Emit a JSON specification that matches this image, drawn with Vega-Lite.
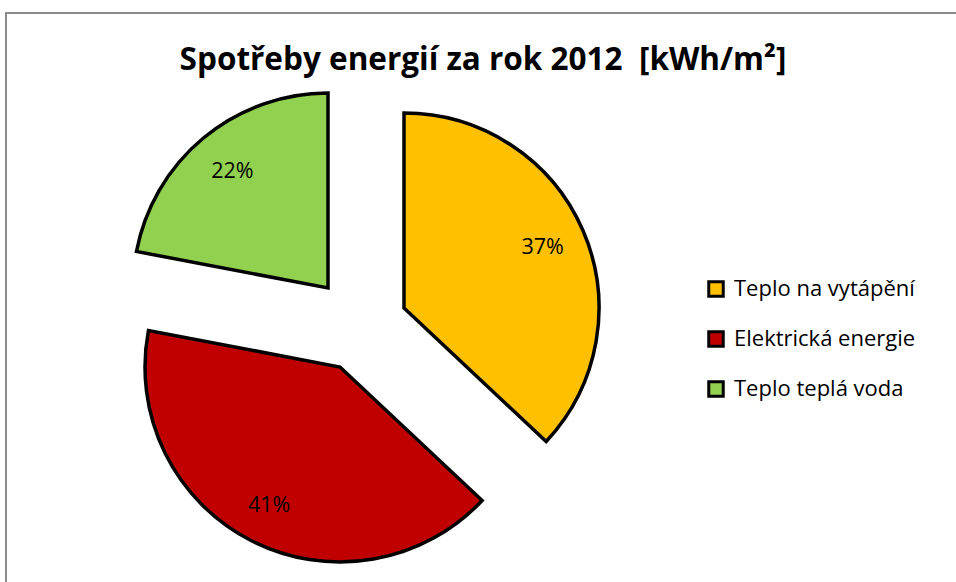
{
  "$schema": "https://vega.github.io/schema/vega-lite/v6.json",
  "autosize": "none",
  "width": 954,
  "height": 580,
  "padding": {"left": 6, "top": 13, "right": 0, "bottom": 0},
  "background": "white",
  "view": {"stroke": "#8c8c8c", "strokeWidth": 2},
  "config": {"view": {"stroke": "#8c8c8c", "strokeWidth": 2}},
  "title": {
    "text": "Spotřeby energií za rok 2012\u00a0 [kWh/m²]",
    "anchor": "middle",
    "frame": "group",
    "offset": -56,
    "dy": 32,
    "baseline": "alphabetic",
    "font": "Open Sans",
    "fontWeight": "bold",
    "fontSize": 31.5,
    "color": "black"
  },
  "data": {
    "values": [
      {"kategorie": "Teplo na vytápění", "podil": 0.37},
      {"kategorie": "Elektrická energie", "podil": 0.41},
      {"kategorie": "Teplo teplá voda", "podil": 0.22}
    ]
  },
  "transform": [{"stack": "podil", "groupby": [], "as": ["t0", "t1"]}],
  "encoding": {
    "color": {
      "field": "kategorie",
      "type": "nominal",
      "scale": {
        "domain": ["Teplo na vytápění", "Elektrická energie", "Teplo teplá voda"],
        "range": ["#FFC000", "#C00000", "#92D050"]
      },
      "legend": {
        "orient": "none",
        "legendX": 699,
        "legendY": 265,
        "title": null,
        "padding": 0,
        "symbolType": "square",
        "symbolSize": 210,
        "symbolStrokeColor": "black",
        "symbolStrokeWidth": 3,
        "symbolOpacity": 1,
        "labelFont": "Open Sans",
        "labelFontSize": 22,
        "labelColor": "black",
        "labelOffset": 7,
        "labelLimit": 400,
        "rowPadding": 22
      }
    }
  },
  "layer": [
    {
      "transform": [{"filter": "datum.kategorie === 'Teplo na vytápění'"}],
      "mark": {"type": "arc", "x": 354, "y": 314, "xOffset": 44, "yOffset": -19, "outerRadius": 195, "stroke": "black", "strokeWidth": 3.5},
      "encoding": {
        "theta": {"field": "t0", "type": "quantitative", "scale": {"domain": [0, 1]}},
        "theta2": {"field": "t1"}
      }
    },
    {
      "transform": [{"filter": "datum.kategorie === 'Elektrická energie'"}],
      "mark": {"type": "arc", "x": 354, "y": 314, "xOffset": -20, "yOffset": 40, "outerRadius": 195, "stroke": "black", "strokeWidth": 3.5},
      "encoding": {
        "theta": {"field": "t0", "type": "quantitative", "scale": {"domain": [0, 1]}},
        "theta2": {"field": "t1"}
      }
    },
    {
      "transform": [{"filter": "datum.kategorie === 'Teplo teplá voda'"}],
      "mark": {"type": "arc", "x": 354, "y": 314, "xOffset": -32, "yOffset": -39, "outerRadius": 195, "stroke": "black", "strokeWidth": 3.5},
      "encoding": {
        "theta": {"field": "t0", "type": "quantitative", "scale": {"domain": [0, 1]}},
        "theta2": {"field": "t1"}
      }
    },
    {
      "transform": [
        {"filter": "datum.kategorie === 'Teplo na vytápění'"},
        {"fold": ["t0", "t1"], "as": ["hrana", "uhel"]},
        {"aggregate": [{"op": "mean", "field": "uhel", "as": "stred"}], "groupby": ["kategorie", "podil"]}
      ],
      "mark": {"type": "text", "x": 354, "y": 314, "xOffset": 44, "yOffset": -19, "radius": 151, "font": "Open Sans", "fontSize": 21.5},
      "encoding": {
        "theta": {"field": "stred", "type": "quantitative", "scale": {"domain": [0, 1]}},
        "text": {"field": "podil", "type": "quantitative", "format": ".0%"},
        "color": {"value": "black"}
      }
    },
    {
      "transform": [
        {"filter": "datum.kategorie === 'Elektrická energie'"},
        {"fold": ["t0", "t1"], "as": ["hrana", "uhel"]},
        {"aggregate": [{"op": "mean", "field": "uhel", "as": "stred"}], "groupby": ["kategorie", "podil"]}
      ],
      "mark": {"type": "text", "x": 354, "y": 314, "xOffset": -20, "yOffset": 40, "radius": 156, "font": "Open Sans", "fontSize": 21.5},
      "encoding": {
        "theta": {"field": "stred", "type": "quantitative", "scale": {"domain": [0, 1]}},
        "text": {"field": "podil", "type": "quantitative", "format": ".0%"},
        "color": {"value": "black"}
      }
    },
    {
      "transform": [
        {"filter": "datum.kategorie === 'Teplo teplá voda'"},
        {"fold": ["t0", "t1"], "as": ["hrana", "uhel"]},
        {"aggregate": [{"op": "mean", "field": "uhel", "as": "stred"}], "groupby": ["kategorie", "podil"]}
      ],
      "mark": {"type": "text", "x": 354, "y": 314, "xOffset": -32, "yOffset": -39, "radius": 150, "font": "Open Sans", "fontSize": 21.5},
      "encoding": {
        "theta": {"field": "stred", "type": "quantitative", "scale": {"domain": [0, 1]}},
        "text": {"field": "podil", "type": "quantitative", "format": ".0%"},
        "color": {"value": "black"}
      }
    }
  ]
}
